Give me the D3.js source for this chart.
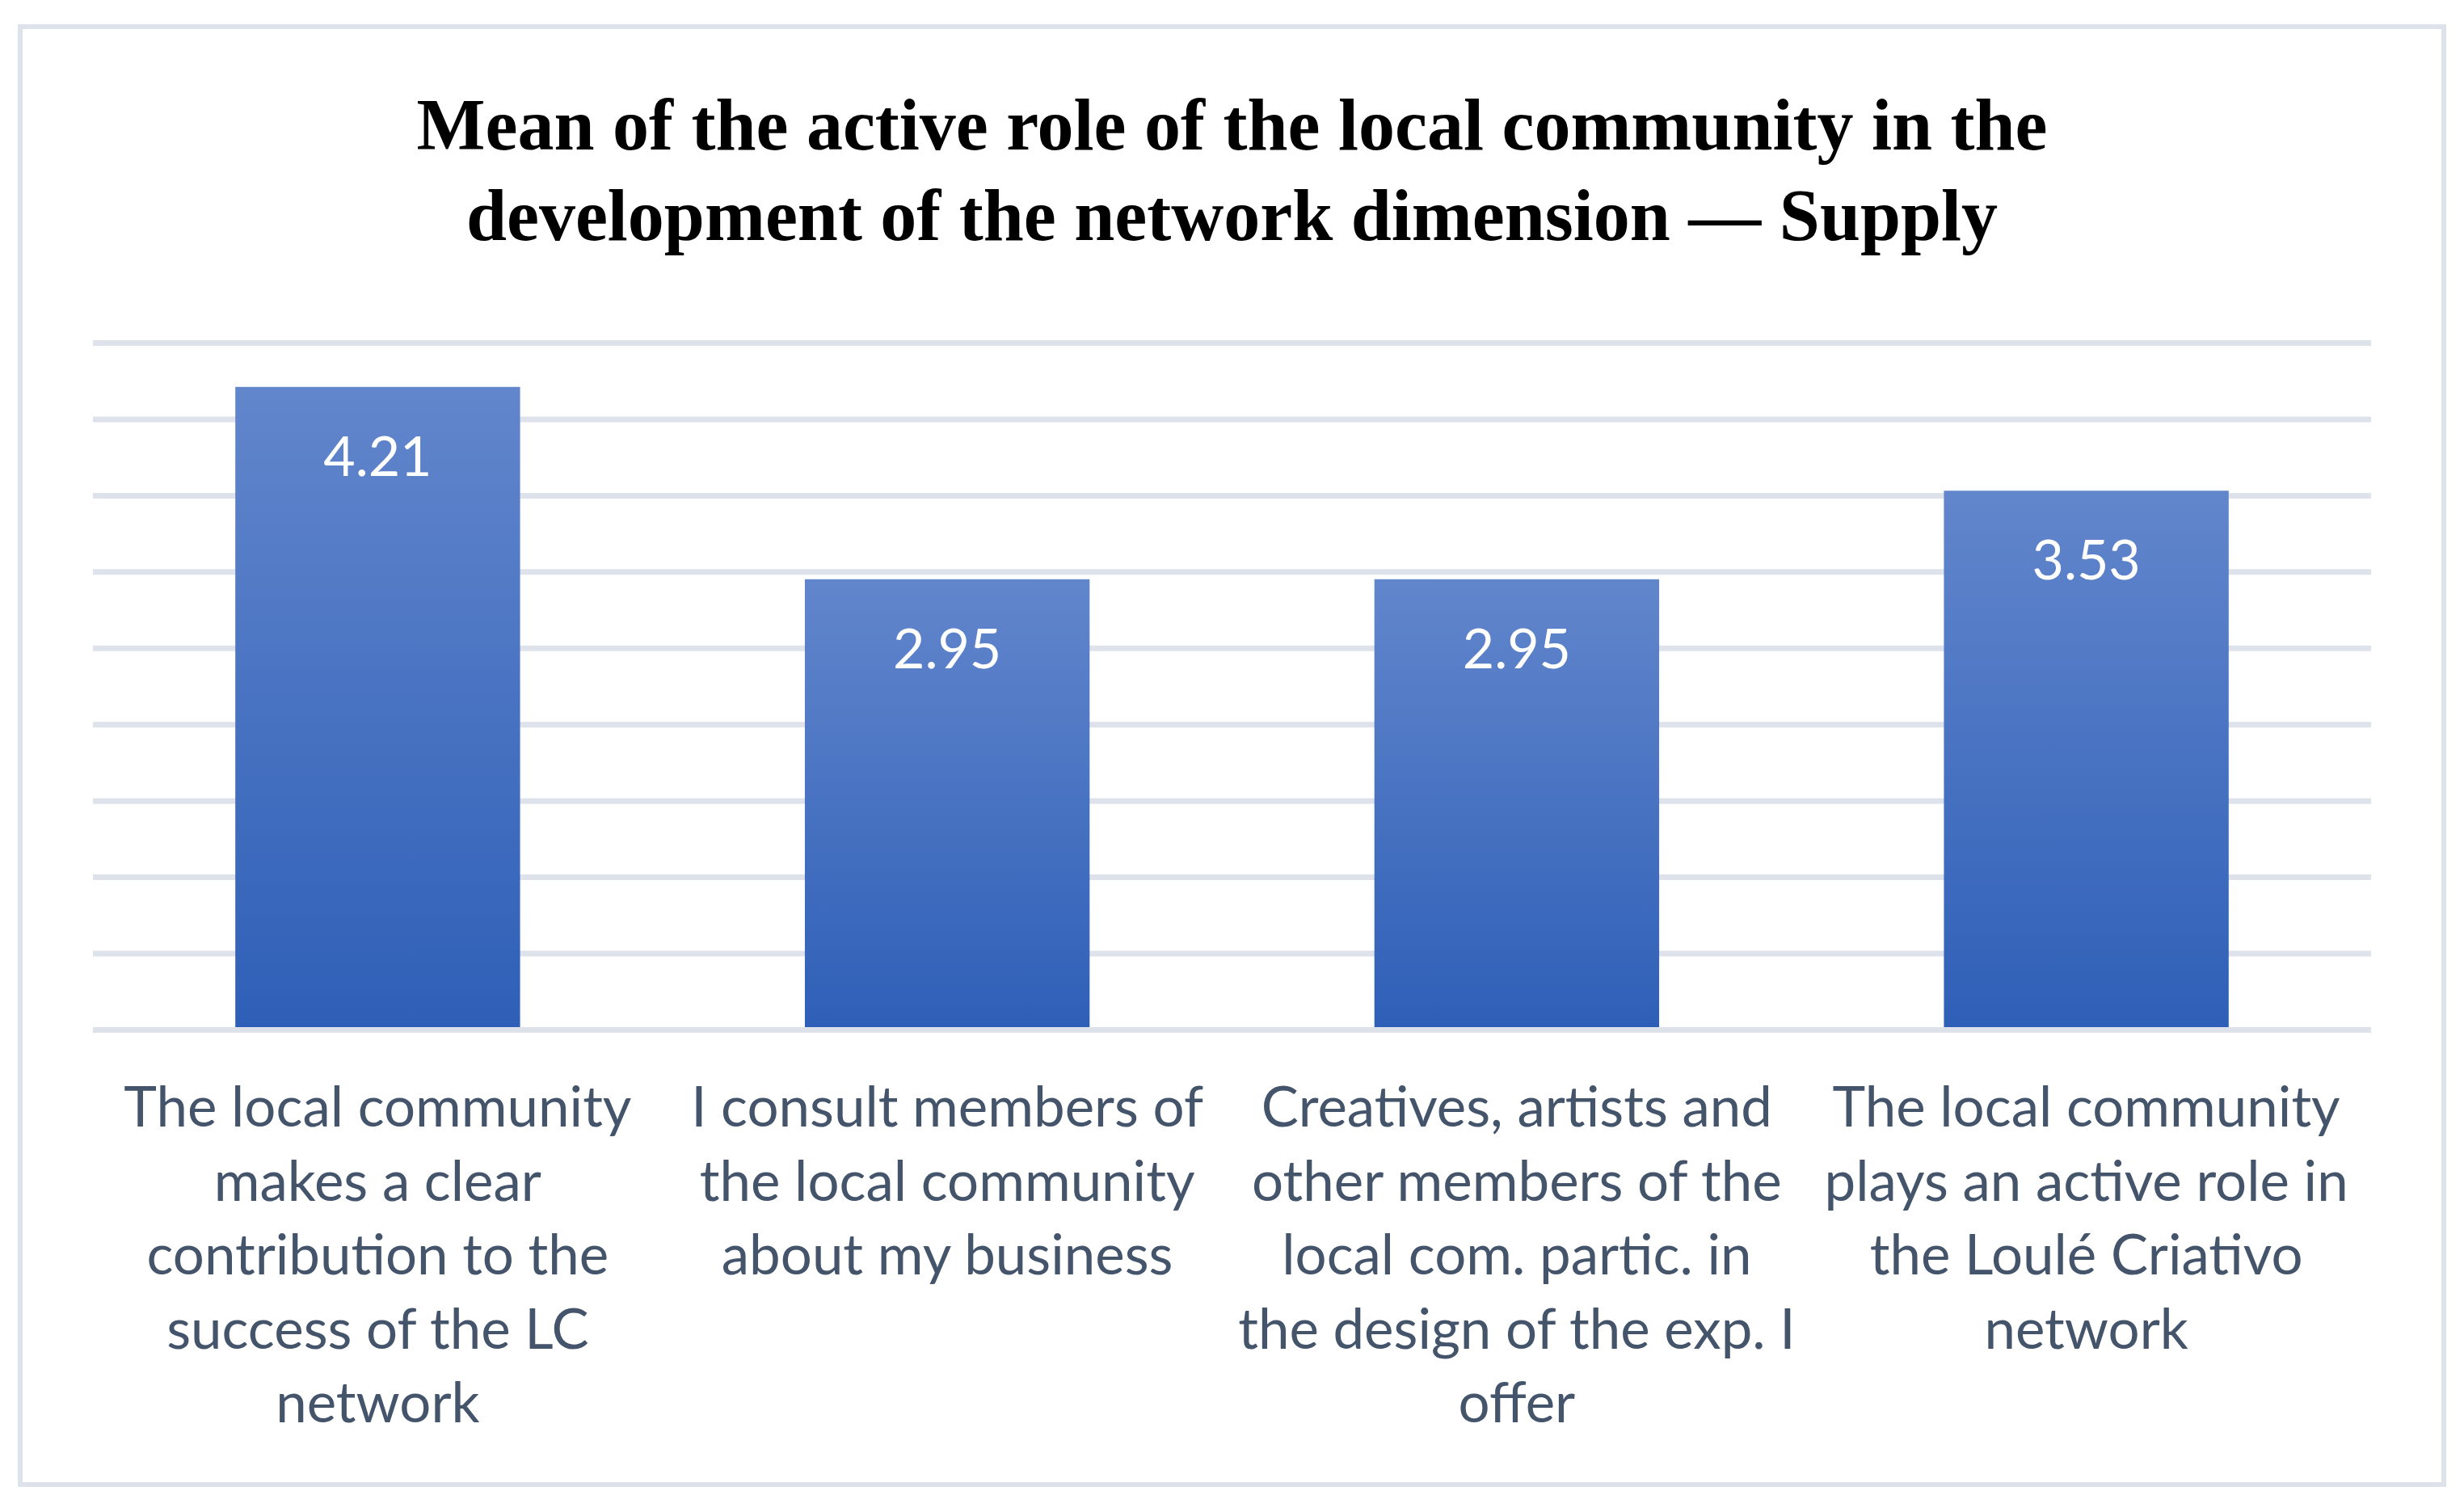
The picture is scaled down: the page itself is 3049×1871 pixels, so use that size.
<!DOCTYPE html>
<html>
<head>
<meta charset="utf-8">
<script src="https://cdn.jsdelivr.net/npm/d3@7"></script>
<style>
  body { margin: 0; background: #fff; }
</style>
</head>
<body>
<div class="container"></div>
<script>
// chart data
const titleLines = [
  "Mean of the active role of the local community in the",
  "development of the network dimension \u2014 Supply"
];
const categories = [
  ["The local community", "makes a clear", "contribution to the", "success of the LC", "network"],
  ["I consult members of", "the local community", "about my business"],
  ["Creatives, artists and", "other members of the", "local com. partic. in", "the design of the exp. I", "offer"],
  ["The local community", "plays an active role in", "the Loulé Criativo", "network"]
];
const values = [4.21, 2.95, 2.95, 3.53];
const yTicks = [0, 0.5, 1, 1.5, 2, 2.5, 3, 3.5, 4, 4.5];

// svg dimensions
const width = 3049;
const height = 1871;
const plot = { left: 115, right: 2934, top: 424, bottom: 1274 };

const svg = d3.select('.container')
  .append('svg')
  .attr('width', width)
  .attr('height', height);

// bar gradient
const grad = svg.append('defs').append('linearGradient')
  .attr('id', 'barGrad')
  .attr('x1', 0).attr('y1', 0).attr('x2', 0).attr('y2', 1);
grad.append('stop').attr('offset', '0%').attr('stop-color', '#6286CC');
grad.append('stop').attr('offset', '100%').attr('stop-color', '#2E5FB7');

// outer frame
svg.append('rect')
  .attr('x', 25).attr('y', 33)
  .attr('width', 2999).attr('height', 1804)
  .attr('fill', 'none')
  .attr('stroke', '#DEE2EA')
  .attr('stroke-width', 6);

// title
svg.append('text')
  .attr('x', (plot.left + plot.right) / 2)
  .attr('text-anchor', 'middle')
  .attr('font-family', '"Liberation Serif", serif')
  .attr('font-weight', 'bold')
  .attr('font-size', 90)
  .attr('fill', '#000')
  .selectAll('tspan')
  .data(titleLines)
  .enter()
  .append('tspan')
  .attr('x', (plot.left + plot.right) / 2)
  .attr('y', (d, i) => 185 + i * 112)
  .text(d => d);

// scales
const xScale = d3.scaleBand()
  .domain(d3.range(values.length))
  .range([plot.left, plot.right])
  .paddingInner(0.5)
  .paddingOuter(0.25);

const yScale = d3.scaleLinear()
  .domain([0, 4.5])
  .range([plot.bottom, plot.top]);

// gridlines
const grid = svg.append('g')
  .attr('transform', `translate(${plot.left},0)`)
  .call(d3.axisLeft(yScale)
    .tickValues(yTicks)
    .tickSize(-(plot.right - plot.left))
    .tickFormat(''));
grid.select('.domain').remove();
grid.selectAll('.tick line')
  .attr('stroke', '#DEE2EA')
  .attr('stroke-width', 7);

// bars
svg.selectAll('rect.bar')
  .data(values)
  .enter()
  .append('rect')
  .attr('class', 'bar')
  .attr('x', (d, i) => xScale(i))
  .attr('y', d => yScale(d))
  .attr('width', xScale.bandwidth())
  .attr('height', d => yScale(0) - yScale(d))
  .attr('fill', 'url(#barGrad)');

// baseline over the bars
svg.append('line')
  .attr('x1', plot.left).attr('x2', plot.right)
  .attr('y1', yScale(0) + 0.5).attr('y2', yScale(0) + 0.5)
  .attr('stroke', '#DEE2EA')
  .attr('stroke-width', 7);

// value labels
svg.selectAll('text.value')
  .data(values)
  .enter()
  .append('text')
  .attr('class', 'value')
  .attr('x', (d, i) => xScale(i) + xScale.bandwidth() / 2)
  .attr('y', d => yScale(d) + 110)
  .attr('text-anchor', 'middle')
  .attr('font-family', 'Lato, sans-serif')
  .attr('font-size', 68)
  .attr('fill', '#fff')
  .text(d => d.toFixed(2));

// category labels
svg.selectAll('text.cat')
  .data(categories)
  .enter()
  .append('text')
  .attr('class', 'cat')
  .attr('text-anchor', 'middle')
  .attr('font-family', 'Lato, sans-serif')
  .attr('font-size', 69)
  .attr('fill', '#44546A')
  .each(function(lines, i) {
    const cx = xScale(i) + xScale.bandwidth() / 2;
    d3.select(this).selectAll('tspan')
      .data(lines)
      .enter()
      .append('tspan')
      .attr('x', cx)
      .attr('y', (d, j) => 1394 + j * 91.5)
      .text(d => d);
  });
</script>
</body>
</html>
